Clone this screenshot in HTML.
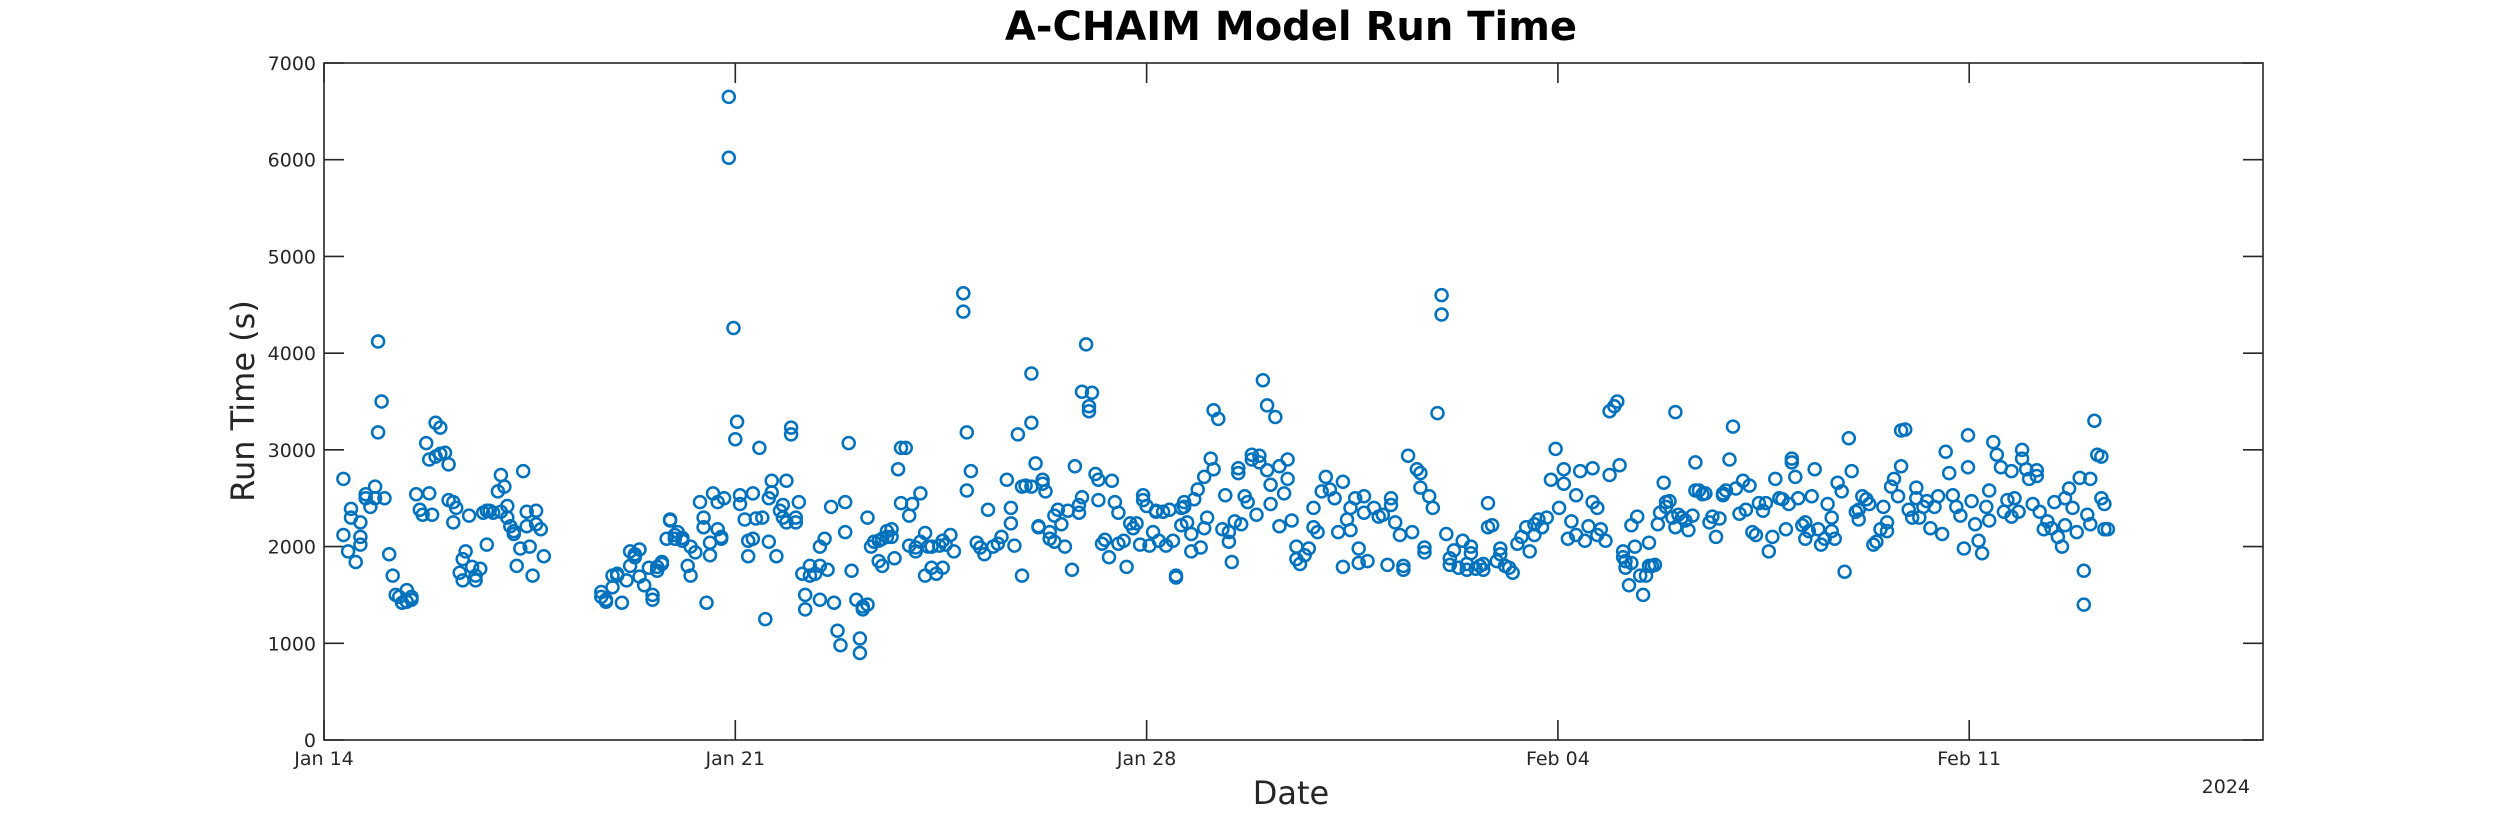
<!DOCTYPE html>
<html>
<head>
<meta charset="utf-8">
<title>A-CHAIM Model Run Time</title>
<style>
  html,body{margin:0;padding:0;background:#fff;}
  svg{display:block;font-family:"DejaVu Sans","Liberation Sans",sans-serif;}
</style>
</head>
<body>
<svg id="chart" width="2500" height="833" viewBox="0 0 2500 833" xmlns="http://www.w3.org/2000/svg">
  <rect x="0" y="0" width="2500" height="833" fill="#fff"/>
  <text x="1291" y="40" text-anchor="middle" font-size="40" font-weight="bold" fill="#000">A-CHAIM Model Run Time</text>
  <g id="axes"></g>
  <g id="points"></g>
  <text x="1291" y="804" text-anchor="middle" font-size="32" fill="#262626">Date</text>
  <text x="0" y="0" transform="translate(254,401) rotate(-90)" text-anchor="middle" font-size="32" fill="#262626">Run Time (s)</text>
  <text x="2250" y="793" text-anchor="end" font-size="19" fill="#262626">2024</text>
</svg>
<script>
// Data: day offset from Jan 14 2024 (00:00) and run times (s) observed at that time
const runDays = [
0.33,0.41,0.46,0.54,0.62,0.71,0.79,0.87,0.92,0.98,1.03,1.11,1.17,1.22,1.28,1.33,1.41,1.49,1.57,1.63,1.68,1.74,1.79,1.84,1.90,1.98,2.06,2.12,2.20,2.25,2.31,2.36,2.41,2.47,2.52,2.58,2.66,2.71,2.77,2.82,2.88,2.96,3.01,3.07,3.12,3.17,3.23,3.28,3.34,3.39,3.45,3.50,3.55,3.61,3.69,3.74,
4.72,4.80,4.91,4.99,5.07,5.15,5.21,5.29,5.37,5.45,5.53,5.59,5.67,5.75,5.83,5.89,5.97,6.02,6.10,6.19,6.24,6.32,6.40,6.46,6.51,6.57,6.62,6.70,6.76,6.81,
6.89,6.97,7.00,7.03,7.08,7.16,7.22,7.30,7.35,7.41,7.46,7.51,7.57,7.62,7.70,7.76,7.81,7.87,7.95,8.03,8.08,8.14,8.19,8.27,8.36,8.44,8.52,8.57,8.63,8.68,8.74,8.79,8.87,8.93,8.98,9.06,9.12,9.17,9.25,9.31,9.36,9.44,9.50,9.58,9.66,9.71,9.77,9.82,9.90,9.96,
10.01,10.07,10.15,10.23,10.28,10.34,10.42,10.47,10.53,10.58,10.66,10.72,10.88,10.94,11.01,11.11,11.17,11.24,11.30,11.39,11.47,11.53,11.62,11.69,11.75,11.81,11.88,11.94,12.04,12.11,12.16,12.23,12.28,
12.35,12.43,12.49,12.55,12.61,12.66,12.73,12.78,12.85,12.90,12.97,13.02,13.07,13.13,13.18,13.24,13.29,13.36,13.41,13.46,13.52,13.61,13.66,13.72,13.77,13.83,13.89,13.94,14.00,14.05,14.11,14.16,14.21,14.28,14.33,
14.39,14.45,14.50,14.59,14.64,14.69,14.76,14.81,14.87,14.92,14.98,15.03,15.09,15.14,15.22,15.29,15.34,15.40,15.45,15.50,15.56,15.61,15.67,15.72,15.79,15.87,15.92,15.98,16.05,16.11,16.19,16.26,16.34,16.40,16.47,16.55,
16.61,16.69,16.76,16.84,16.91,16.98,17.05,17.12,17.20,17.26,17.34,17.41,17.47,17.55,17.61,17.70,17.76,17.87,17.95,18.02,18.10,18.16,18.23,18.31,18.37,18.45,18.52,18.60,18.66,18.73,18.81,18.87,18.95,19.02,19.10,19.16,
19.23,19.31,19.38,19.45,19.52,19.60,19.67,19.73,19.81,19.88,19.96,20.02,20.10,20.17,20.23,20.31,20.38,20.46,20.52,20.60,20.67,20.73,20.81,20.88,20.96,21.02,21.10,21.17,21.23,21.31,21.38,21.46,21.52,21.59,21.67,21.73,21.81,
21.88,21.96,22.01,22.05,22.11,22.15,22.21,22.25,22.31,22.35,22.40,22.45,22.50,22.55,22.60,22.65,22.70,22.74,22.80,22.84,22.90,22.95,23.00,23.05,23.11,23.17,23.22,23.29,23.34,23.40,23.46,23.51,23.58,23.63,23.69,23.75,23.81,
23.86,23.92,23.98,24.03,24.09,24.15,24.20,24.26,24.31,24.37,24.42,24.49,24.54,24.59,24.65,24.70,24.77,24.82,24.88,24.93,24.98,25.04,25.09,25.16,25.21,25.27,25.32,25.37,25.43,25.48,25.54,25.59,25.66,25.71,25.76,25.83,25.88,
25.95,26.00,26.07,26.12,26.18,26.25,26.30,26.37,26.42,26.49,26.54,26.60,26.67,26.72,26.79,26.84,26.91,26.97,27.03,27.10,27.15,27.22,27.28,27.34,27.41,27.47,27.54,27.60,27.66,27.72,27.78,27.85,27.91,27.98,28.04,28.10,28.16,
28.22,28.29,28.34,28.41,28.47,28.54,28.59,28.65,28.72,28.77,28.84,28.90,28.97,29.02,29.08,29.15,29.20,29.27,29.33,29.40,29.45,29.51,29.58,29.63,29.70,29.76,29.83,29.88,29.95,30.01,30.06,30.13,30.18,30.25,30.30,30.36
];
const runTimes = [
[2120,2700],[1950],[2300,2390],[1840],[2250,2100,2020],[2540,2500],[2410],[2620,2500],[3180,4120],[3500],[2500],[1920],[1700],[1500],[1480],[1420],[1550,1430],[1450,1480],[2540],[2380],[2330],[3070],[2900,2550],[2330],[2930,3280],[3230,2960],[2970],[2850,2480],[2460,2250],[2400],[1730],[1650,1870],[1950],[2320],[1790],[1700,1650],[1770],[2350],[2020,2370],[2370],[2350],[2570],[2740,2360],[2620],[2300,2420],[2210],[2160,2130],[1800],[1980],[2780],[2360,2210],[2000],[1700],[2230,2370],[2180],[1900],
[1530,1480],[1450,1430],[1580,1700],[1720,1700],[1420],[1650],[1950,1800],[1920,1890],[1970,1690],[1600],[1780],[1500,1450],[1790,1750],[1820,1840],[2080],[2280,2270],[2120,2080],[2150],[2090,2060],[1800],[2000,1700],[1940],[2460],[2300,2200],[1420],[1910,2040],[2550],[2460,2180],[2080,2100],[2500],
[6650,6020],[4260],[3110],[3290],[2440,2530],[2280],[2060,1900],[2080,2550],[2290],[3020],[2300],[1250],[2500,2050],[2680,2560],[1900],[2370],[2430,2300],[2680,2250],[3230,3160],[2300,2250],[2460],[1720],[1500,1350],[1800,1700],[1720],[1800,1450,2000],[2080],[1760],[2410],[1420],[1130],[980],[2460,2150],[3070],[1750],[1450],[1050,900],[1350,1380],[1400,2300],[2000],[2050],[1850,2060],[1800,2080],[2100,2160],[2180,2100],[1880],[2800],[3020,2450],[3020],[2320,2010],
[2440],[1990,1950],[2050,2550],[1700,2140],[2000],[2000,1780],[1720],[2010],[1780,2060],[2020],[2120],[1950],[4620,4430],[3180,2580],[2780],[2040],[1990],[1920],[2380],[2000],[2030],[2100],[2690],[2240,2400],[2010],[3160],[2620,1700],[2630],[3280,3790,2620],[2860],[2210,2200],[2650,2690],[2570],
[2150,2080],[2320,2050],[2380],[2230],[2000],[2370],[1760],[2830],[2350,2430],[2510,3600],[4090],[3400,3450],[3590],[2750],[2480,2690],[2030],[2070],[1890],[2680],[2460],[2350,2030],[2060],[1790],[2240],[2190],[2240],[2020],[2480,2530],[2420],[2010],[2150],[2360,2370],[2060],[2360],[2010],
[2380],[2060],[1700,1680],[2220,2400],[2460,2410],[2250],[1950,2130],[2490],[2590],[1990],[2190,2720],[2300],[2910],[3410,2800],[3320],[2180],[2530],[2050,2150],[1840],[2260],[2810,2760],[2230],[2520],[2460],[2900,2950],[2330],[2940,2870],[3720],[3460,2790],[2440,2640],[3340],[2830,2210],[2550],[2700,2900],[2270],[1870,2000],
[1820],[1910],[1980],[2200,2400],[2150],[2570],[2720],[2590],[2500],[2150],[2670,1790],[2280],[2170,2400],[2500],[1830,1980],[2350,2520],[1850],[2400],[2310],[2330],[1810],[2430,2500],[2250],[2120],[1800,1760],[2940],[2150],[2800],[2760,2610],[1990,1940],[2520],[2400],[3380],[4600,4400],[2130],[1880,1810],
[1960],[1780],[2060],[1760,1820],[1930,2000],[1770],[1800],[1820,1760],[2450,2200],[2220],[1850],[1980,1920],[1800],[1780],[1730],[2030],[2100],[2200],[1950],[2230,2120],[2280],[2200],[2300],[2690],[3010],[2400],[2650,2800],[2080],[2260],[2530,2120],[2780],[2060],[2210],[2460,2810],[2400,2120],[2180],[2060],
[2740,3400],[3450],[3500],[2840],[1890,1950],[1850,1780],[1600],[1830,2220],[2000],[2310],[1700],[1500],[1700],[2040,1800],[1800],[1810],[2230],[2350],[2660],[2410,2460],[2470],[2300],[2200,3390],[2330],[2300],[2270],[2170],[2320],[2580,2870],[2580],[2540],[2550],[2250],[2310],[2100],[2290],[2530,2550],
[2580],[2900],[3240],[2600],[2340],[2680],[2380],[2630],[2150],[2120],[2450],[2370],[2450],[1950],[2100],[2700],[2500],[2490],[2180],[2440],[2910,2870],[2720],[2500],[2220],[2080,2250],[2160],[2520],[2800],[2180],[2020],[2080],[2440],[2160,2300],[2080],[2660],[2570],[1740],
[3120],[2780],[2360],[2280,2380],[2520],[2490],[2440],[2020],[2050],[2180],[2410],[2250,2160],[2620],[2700],[2520],[2830,3200],[3210],[2380],[2300],[2500,2610],[2300],[2410],[2470],[2190],[2410],[2520],[2130],[2980],[2760],[2530],[2410],[2320],[1980],[3150,2820],[2470],[2230],[2060],
[1930],[2410],[2270,2580],[3080],[2950],[2820],[2360],[2480],[2310,2780],[2500],[2360],[2910,3000],[2800],[2700],[2440],[2790,2730],[2360],[2180],[2260],[2190],[2460],[2100],[2000],[2220,2500],[2600],[2400],[2150],[2710],[1750,1400],[2330],[2230,2700],[3300],[2950],[2930,2500],[2440,2180],[2180]
];
// Axis configuration (data units)
const xTickDays = [0, 7, 14, 21, 28];
const xTickLabels = ["Jan 14", "Jan 21", "Jan 28", "Feb 04", "Feb 11"];
const yTickValues = [0, 1000, 2000, 3000, 4000, 5000, 6000, 7000];
const yTickLabels = ["0", "1000", "2000", "3000", "4000", "5000", "6000", "7000"];

const NS = "http://www.w3.org/2000/svg";
const L = 324, R = 2263, T = 63, B = 740;
const X_MIN = 0, X_MAX = 33, Y_MIN = 0, Y_MAX = 7000;
function xScale(d){ return L + (d - X_MIN) / (X_MAX - X_MIN) * (R - L); }
function yScale(v){ return B - (v - Y_MIN) / (Y_MAX - Y_MIN) * (B - T); }
function mk(tag, attrs){ const e = document.createElementNS(NS, tag); for (const k in attrs) e.setAttribute(k, attrs[k]); return e; }

const axes = document.getElementById("axes");
const box = mk("rect", {x: L, y: T, width: R - L, height: B - T, fill: "none", stroke: "#262626", "stroke-width": 1.6});


axes.appendChild(box);

const TL = 20;
xTickDays.forEach((d, i) => {
  const x = xScale(d);
  const t1 = mk("line", {x1: x, x2: x, y1: B, y2: B - TL, stroke: "#262626", "stroke-width": 1.6});
  
  
  axes.appendChild(t1);
  const t2 = mk("line", {x1: x, x2: x, y1: T, y2: T + TL, stroke: "#262626", "stroke-width": 1.6});
  
  
  axes.appendChild(t2);
  const lb = mk("text", {x: x, y: 765, "text-anchor": "middle", "font-size": 19, fill: "#262626"});
  lb.textContent = xTickLabels[i];
  
  
  axes.appendChild(lb);
});
yTickValues.forEach((v, i) => {
  const y = yScale(v);
  const t1 = mk("line", {x1: L, x2: L + TL, y1: y, y2: y, stroke: "#262626", "stroke-width": 1.6});
  
  
  axes.appendChild(t1);
  const t2 = mk("line", {x1: R, x2: R - TL, y1: y, y2: y, stroke: "#262626", "stroke-width": 1.6});
  
  
  axes.appendChild(t2);
  const lb = mk("text", {x: L - 8, y: y + 7, "text-anchor": "end", "font-size": 19, fill: "#262626"});
  lb.textContent = yTickLabels[i];
  
  
  axes.appendChild(lb);
});

const pts = document.getElementById("points");
const n = Math.min(runDays.length, runTimes.length);
for (let i = 0; i < n; i++) {
  runTimes[i].forEach(v => {
    const c = mk("circle", {cx: xScale(runDays[i]).toFixed(1), cy: yScale(v).toFixed(1), r: 6, fill: "none", stroke: "#0072BD", "stroke-width": 2.5});
    
    
    pts.appendChild(c);
  });
}
</script>
</body>
</html>
